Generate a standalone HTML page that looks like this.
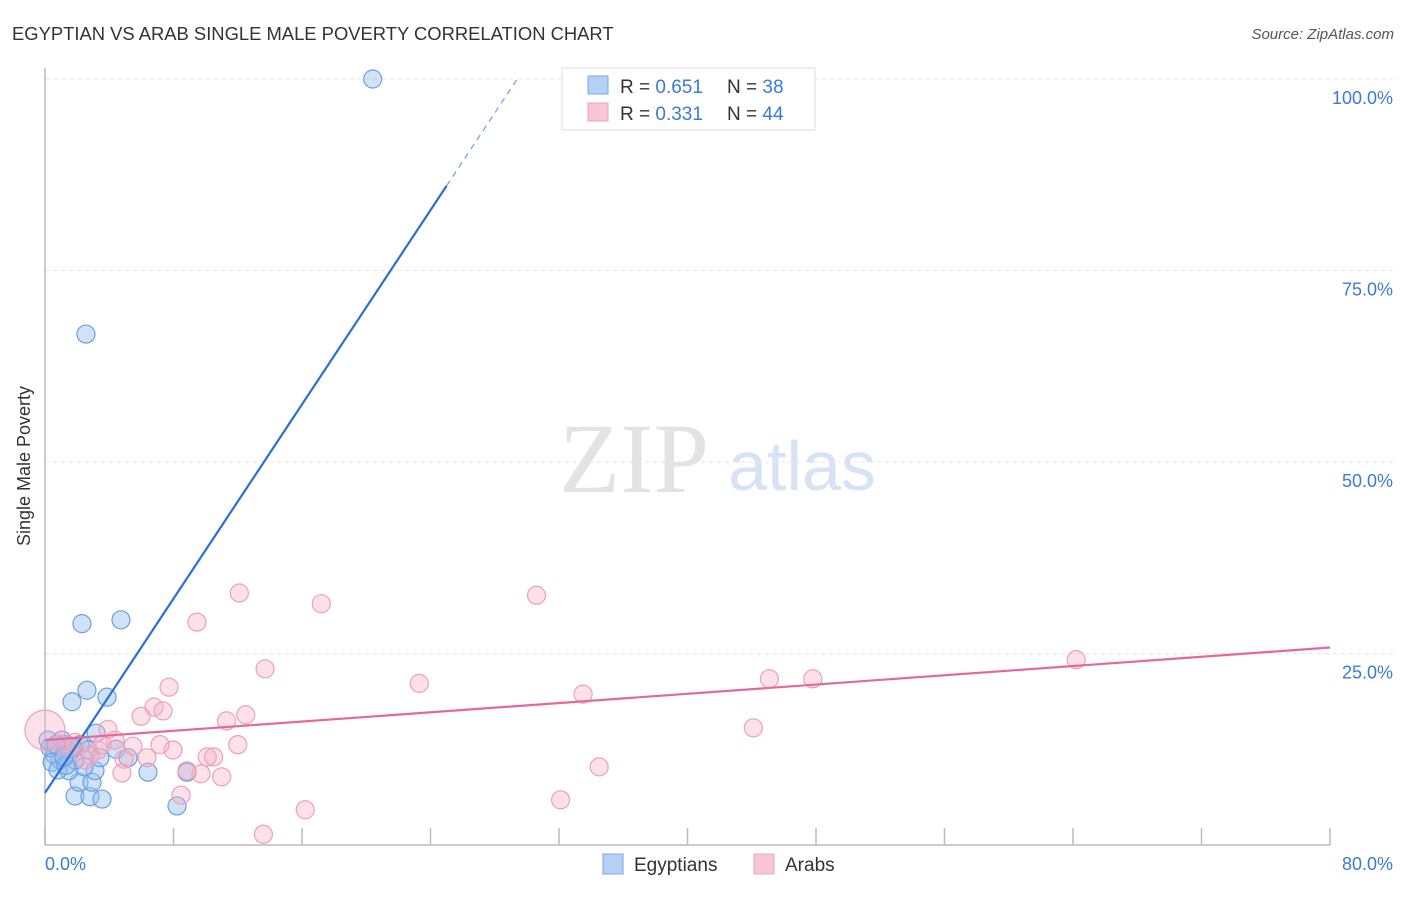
<!DOCTYPE html>
<html><head><meta charset="utf-8"><style>
body{margin:0;background:#fff;font-family:"Liberation Sans",sans-serif}
</style></head><body>
<svg width="1406" height="892" xmlns="http://www.w3.org/2000/svg">
<text x="12" y="40" font-size="18.4" fill="#333">EGYPTIAN VS ARAB SINGLE MALE POVERTY CORRELATION CHART</text>
<text x="1394" y="39" font-size="15" fill="#555" font-style="italic" text-anchor="end">Source: ZipAtlas.com</text>
<text x="634" y="492" font-size="100" fill="#e3e3e3" font-family="Liberation Serif,serif" text-anchor="middle">ZIP</text>
<text x="802" y="490" font-size="70" fill="#d5e3f5" text-anchor="middle">atlas</text>
<g id="grid"></g><g id="axes"></g><g id="marks"></g>
<text x="20" y="456" font-size="18" fill="#333" transform="rotate(-90 30 456)" text-anchor="middle">Single Male Poverty</text>
<text x="45" y="870" font-size="18" fill="#3a7bd5">0.0%</text>
<text x="1393" y="870" font-size="18" fill="#3a7bd5" text-anchor="end">80.0%</text>
<g>
<rect x="562" y="68" width="253" height="62" fill="#fff" stroke="#ddd"/>
<rect x="588" y="76" width="20" height="18" fill="#b6d0f5" stroke="#7aa7e6"/>
<rect x="588" y="103" width="20" height="18" fill="#f9c6d6" stroke="#eea4bc"/>
<text x="620" y="93" font-size="19" fill="#333">R = <tspan fill="#3a7bd5">0.651</tspan></text>
<text x="727" y="93" font-size="19" fill="#333">N = <tspan fill="#3a7bd5">38</tspan></text>
<text x="620" y="120" font-size="19" fill="#333">R = <tspan fill="#3a7bd5">0.331</tspan></text>
<text x="727" y="120" font-size="19" fill="#333">N = <tspan fill="#3a7bd5">44</tspan></text>
</g>
<g>
<rect x="603" y="854" width="20" height="20" fill="#b6d0f5" stroke="#7aa7e6"/>
<text x="634" y="871" font-size="19" fill="#333">Egyptians</text>
<rect x="754" y="854" width="20" height="20" fill="#f9c6d6" stroke="#eea4bc"/>
<text x="785" y="871" font-size="19" fill="#333">Arabs</text>
</g>
</svg>
<script>
const yTicks=[25,50,75,100];
const yTickLabels=["25.0%","50.0%","75.0%","100.0%"];
const xTicks=[0,8,16,24,32,40,48,56,64,72,80];
const egyX=[20.4,2.55,2.3,4.73,1.68,2.61,3.86,3.18,4.42,5.17,6.41,8.84,8.22,1.87,2.8,3.55,2.12,2.93,1.49,3.11,2.43,0.62,0.93,0.31,1.25,1.56,1.06,2.18,0.44,0.81,1.87,2.68,3.42,0.19,1.31,0.68,1.74,1.18];
const egyY=[100,66.7,28.9,29.4,18.7,20.2,19.3,14.6,12.5,11.4,9.5,9.5,5.1,6.4,6.3,6.0,8.2,8.2,9.7,9.7,10.2,11.7,11.1,12.7,13.1,12.1,13.7,13.1,10.8,9.8,11.1,12.4,11.4,13.7,10.4,13.1,12.7,11.5];
const arabX=[12.1,17.2,30.6,9.46,13.7,23.3,33.5,45.1,47.8,64.2,7.72,6.79,7.35,5.98,11.3,12.5,3.92,44.1,12.0,7.97,10.1,10.5,4.92,6.35,9.71,11.0,4.79,34.5,8.84,8.47,16.2,32.1,13.6,3.3,5.48,0.93,1.87,2.8,4.36,2.49,1.56,3.55,0,7.16];
const arabY=[32.9,31.5,32.6,29.1,23.0,21.1,19.7,21.7,21.7,24.2,20.6,18.0,17.5,16.8,16.2,17.0,15.1,15.3,13.1,12.4,11.5,11.5,11.2,11.4,9.3,8.9,9.4,10.2,9.7,6.5,4.6,5.9,1.4,12.4,12.9,13.2,13.4,11.7,13.7,11.1,12.7,13.1,15.0,13.1];
const arabR=[9,9,9,9,9,9,9,9,9,9,9,9,9,9,9,9,9,9,9,9,9,9,9,9,9,9,9,9,9,9,9,9,9,9,9,9,9,9,9,9,9,9,20,9];
const egyFit=[6.8,3.17]; const arabFit=[13.7,0.151];
const X=v=>45+v/80*1285, Y=v=>845-v/25*191.5;
const NS="http://www.w3.org/2000/svg";
function mk(p,t,a){const e=document.createElementNS(NS,t);for(const k in a)e.setAttribute(k,a[k]);p.appendChild(e);return e;}
const grid=document.getElementById('grid'),axes=document.getElementById('axes'),marks=document.getElementById('marks');
yTicks.forEach((t,i)=>{
 const l=mk(grid,'line',{x1:45,x2:1395,y1:Y(t),y2:Y(t),stroke:'#e4e4e4','stroke-dasharray':'4,4'});
 
 
 const tx=mk(grid,'text',{x:1393,y:Y(t)+25,'font-size':18,fill:'#3a7bd5','text-anchor':'end'});
 tx.textContent=yTickLabels[i];
 
 
});
const ax=mk(axes,'line',{x1:45,x2:1330,y1:845,y2:845,stroke:'#bbb','stroke-width':1.5});


const ay=mk(axes,'line',{x1:45,x2:45,y1:68,y2:845,stroke:'#bbb','stroke-width':1.5});


xTicks.forEach(t=>{
 const l=mk(axes,'line',{x1:X(t),x2:X(t),y1:828,y2:845,stroke:'#bbb','stroke-width':1.5});
 
 
});
egyX.forEach((x,i)=>{
 const c=mk(marks,'circle',{cx:X(x),cy:Y(egyY[i]),r:9,fill:'rgba(150,190,240,0.45)',stroke:'#6a9fe0','stroke-width':1.2});
 
 
});
arabX.forEach((x,i)=>{
 const c=mk(marks,'circle',{cx:X(x),cy:Y(arabY[i]),r:arabR[i],fill:'rgba(248,175,198,0.38)',stroke:'#eda0b8','stroke-width':1.2});
 
 
});
const ex1=25.0, ex2=(100-egyFit[0])/egyFit[1];
const b1=mk(marks,'line',{x1:X(0),y1:Y(egyFit[0]),x2:X(ex1),y2:Y(egyFit[0]+egyFit[1]*ex1),stroke:'#2a6fd4','stroke-width':2.2});


const b2=mk(marks,'line',{x1:X(ex1),y1:Y(egyFit[0]+egyFit[1]*ex1),x2:X(ex2),y2:Y(100),stroke:'#6a9fe0','stroke-width':1.2,'stroke-dasharray':'6,5'});


const p1=mk(marks,'line',{x1:X(0),y1:Y(arabFit[0]),x2:X(80),y2:Y(arabFit[0]+arabFit[1]*80),stroke:'#e8679a','stroke-width':2.2});


</script>
</body></html>
